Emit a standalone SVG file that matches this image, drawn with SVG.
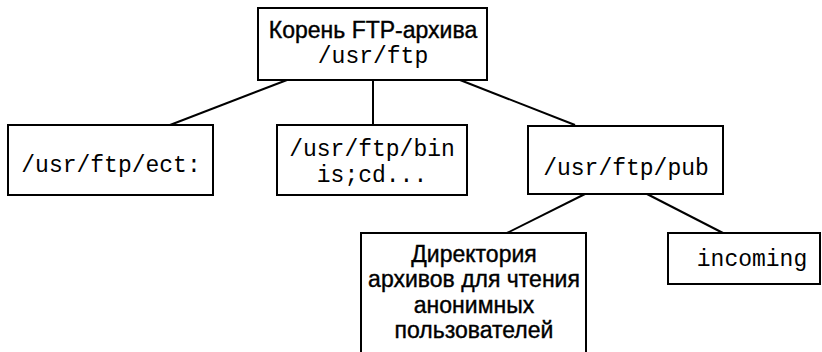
<svg xmlns="http://www.w3.org/2000/svg" width="822" height="352" viewBox="0 0 822 352">
<style>
.box{fill:#fff;stroke:#000;stroke-width:2}
.sans{font-family:"Liberation Sans",Arial,sans-serif;font-size:23px;fill:#000;stroke:#000;stroke-width:0.4;text-anchor:middle}
.mono{font-family:"Liberation Mono","Courier New",monospace;font-size:23px;fill:#000;text-anchor:middle}
.conn line{stroke:#000;stroke-width:2}
</style>
<rect width="822" height="352" fill="#fff"/>
<g class="conn" id="connectors">
<line x1="287" y1="80" x2="170" y2="125"/>
<line x1="373" y1="80" x2="373" y2="125"/>
<line x1="460" y1="80" x2="575" y2="125"/>
<line x1="585" y1="194" x2="507" y2="233"/>
<line x1="647" y1="194" x2="723" y2="233"/>
</g>
<g id="root">
<rect class="box" x="258" y="8" width="229" height="72"/>
<text class="sans" x="373" y="38">Корень FTP-архива</text>
<text class="mono" x="373" y="63">/usr/ftp</text>
</g>
<g id="etc">
<rect class="box" x="8" y="125" width="205" height="70"/>
<text class="mono" x="111" y="172">/usr/ftp/ect:</text>
</g>
<g id="bin">
<rect class="box" x="277" y="125" width="190" height="70"/>
<text class="mono" x="372" y="156">/usr/ftp/bin</text>
<text class="mono" x="372" y="182">is;cd...</text>
</g>
<g id="pub">
<rect class="box" x="528" y="126" width="195" height="68"/>
<text class="mono" x="626" y="175">/usr/ftp/pub</text>
</g>
<g id="dir">
<rect class="box" x="361" y="233" width="225" height="125"/>
<text class="sans" x="474" y="262">Директория</text>
<text class="sans" x="474" y="287">архивов для чтения</text>
<text class="sans" x="474" y="313">анонимных</text>
<text class="sans" x="474" y="338">пользователей</text>
</g>
<g id="incoming">
<rect class="box" x="668" y="233" width="152" height="51"/>
<text class="mono" x="752" y="266">incoming</text>
</g>
</svg>
